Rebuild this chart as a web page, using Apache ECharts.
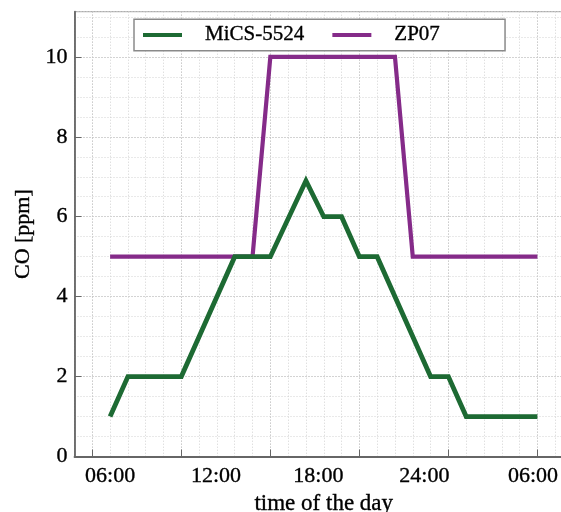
<!DOCTYPE html>
<html>
<head>
<meta charset="utf-8">
<script src="https://cdn.jsdelivr.net/npm/echarts@6/dist/echarts.min.js"></script>
<style>html,body{margin:0;padding:0;background:#fff}#c{width:561px;height:512px}</style>
</head>
<body>
<div id="c"></div>
<script>
// Data (hour of day, continuing past 24 into the next morning)
var micsHours  = [6, 7, 10, 13, 15, 17, 18, 19, 20, 21, 24, 25, 26, 30];
var micsValues = [1, 2, 2, 5, 5, 6.9, 6, 6, 5, 5, 2, 2, 1, 1];
var zpHours    = [6, 14, 15, 22, 23, 30];
var zpValues   = [5, 5, 10, 10, 5, 5];
var xTickHours = [5, 10, 15, 20, 25, 30];
var xLabelHours = [6, 11.95, 17.7, 23.65, 29.75];
var xLabelTexts = ['06:00', '12:00', '18:00', '24:00', '06:00'];
var yTickValues = [0, 2, 4, 6, 8, 10];
var seriesNames = ['MiCS-5524', 'ZP07'];

function pairs(xs, ys) { return xs.map(function (x, i) { return [x, ys[i]]; }); }

var FONT = '"Liberation Serif", "DejaVu Serif", serif';
var TXT = {fontFamily: FONT, color: '#000', textBorderColor: '#000', textBorderWidth: 0.35};
function txt(size) { return Object.assign({fontSize: size}, TXT); }

var chart = echarts.init(document.getElementById('c'), null, {renderer: 'canvas'});
chart.setOption({
  animation: false,
  backgroundColor: '#fff',
  grid: {
    left: 74.5, top: 11.7, right: -12, bottom: 55.5,
    outerBoundsMode: 'none',
    show: true, borderColor: '#9a9a9a', borderWidth: 1, backgroundColor: 'transparent'
  },
  legend: {
    left: 134, top: 19.3,
    data: seriesNames,
    selectedMode: false,
    icon: 'rect',
    itemWidth: 39, itemHeight: 4, itemGap: 28,
    padding: [5, 65, 5, 9],
    backgroundColor: '#fff',
    borderColor: '#8a8a8a', borderWidth: 1.5, borderRadius: 0,
    textStyle: Object.assign({padding: [0, 0, 0, 18]}, txt(21))
  },
  xAxis: [{
    type: 'value', min: 4, max: 32,
    name: 'time of the day', nameLocation: 'middle', nameGap: 36,
    nameTextStyle: txt(23),
    axisLine: {show: true, onZero: false, lineStyle: {color: '#666', width: 1.8}},
    axisTick: {show: true, inside: true, length: 7, customValues: xTickHours, lineStyle: {color: '#666', width: 1}},
    axisLabel: Object.assign({
      customValues: xLabelHours, margin: 9,
      formatter: function (v) {
        var i = xLabelHours.indexOf(v);
        return i >= 0 ? xLabelTexts[i] : '';
      }
    }, txt(22)),
    splitLine: {show: true, lineStyle: {color: '#a6a6a6', type: [1, 2], width: 1}}
  }, {
    type: 'value', min: 4, max: 32, interval: 1, position: 'top',
    axisLine: {show: false}, axisTick: {show: false}, axisLabel: {show: false},
    splitLine: {show: true, lineStyle: {color: '#d2d2d2', type: [1, 2], width: 1}}
  }],
  yAxis: [{
    type: 'value', min: 0, max: 11.13,
    name: 'CO [ppm]', nameLocation: 'middle', nameGap: 37,
    nameTextStyle: txt(22),
    axisLine: {show: true, onZero: false, lineStyle: {color: '#666', width: 1.8}},
    axisTick: {show: true, inside: true, length: 7, customValues: yTickValues, lineStyle: {color: '#666', width: 1}},
    axisLabel: Object.assign({customValues: yTickValues, margin: 7}, txt(22)),
    splitLine: {show: true, lineStyle: {color: '#a6a6a6', type: [1, 2], width: 1}}
  }, {
    type: 'value', min: 0, max: 11.13, interval: 0.5, position: 'right',
    axisLine: {show: false}, axisTick: {show: false}, axisLabel: {show: false},
    splitLine: {show: true, lineStyle: {color: '#d2d2d2', type: [1, 2], width: 1}}
  }],
  series: [{
    name: seriesNames[0], type: 'line', xAxisIndex: 0, yAxisIndex: 0,
    data: pairs(micsHours, micsValues),
    showSymbol: false, symbol: 'none', z: 3,
    color: '#1d6a33',
    lineStyle: {color: '#1d6a33', width: 4.8, join: 'miter'}
  }, {
    name: seriesNames[1], type: 'line', xAxisIndex: 0, yAxisIndex: 0,
    data: pairs(zpHours, zpValues),
    showSymbol: false, symbol: 'none', z: 2,
    color: '#852b89',
    lineStyle: {color: '#852b89', width: 4.2, join: 'miter'}
  }]
});
</script>
</body>
</html>
